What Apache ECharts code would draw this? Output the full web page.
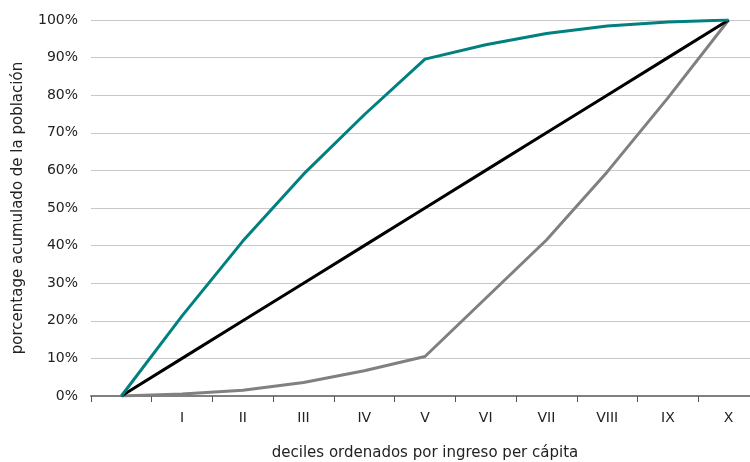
<!DOCTYPE html>
<html><head><meta charset="utf-8">
<script src="https://cdn.jsdelivr.net/npm/echarts@6/dist/echarts.min.js"></script>
<style>html,body{margin:0;padding:0;background:#fff}#c{width:750px;height:462px}</style>
</head><body><div id="c"></div>
<script>
const categories = ['', 'I', 'II', 'III', 'IV', 'V', 'VI', 'VII', 'VIII', 'IX', 'X'];
const tealValues = [0, 21.3, 41.2, 59, 74.8, 89.6, 93.4, 96.4, 98.4, 99.5, 100];
const blackValues = [0, 10, 20, 30, 40, 50, 60, 70, 80, 90, 100];
const grayValues = [0, 0.5, 1.5, 3.6, 6.7, 10.5, 26, 41.5, 59.6, 79.3, 100];
const yTicks = [0, 10, 20, 30, 40, 50, 60, 70, 80, 90, 100];

const font = 'DejaVu Sans';
const chart = echarts.init(document.getElementById('c'));
const mk = (data, color) => ({
  type: 'line', data, symbol: 'none', smooth: false,
  lineStyle: { color, width: 3 }, itemStyle: { color }
});
chart.setOption({
  animation: false,
  grid: { left: 91, top: 20, right: -9, bottom: 66, outerBoundsMode: 'none', containLabel: false },
  xAxis: {
    type: 'category', data: categories, boundaryGap: true,
    name: 'deciles ordenados por ingreso per cápita',
    nameLocation: 'middle', nameGap: 50,
    nameTextStyle: { fontFamily: font, fontSize: 15, color: '#222' },
    axisLine: { lineStyle: { color: '#808080', width: 2 } },
    axisTick: { show: true, interval: 0, length: 6, lineStyle: { color: '#555', width: 1 } },
    axisLabel: { interval: 0, fontFamily: font, fontSize: 14, color: '#222', margin: 15 },
    splitLine: { show: false }
  },
  yAxis: {
    type: 'value', min: 0, max: 100, interval: 10,
    name: 'porcentage acumulado de la población',
    nameLocation: 'middle', nameGap: 65, nameRotate: 90,
    nameTextStyle: { fontFamily: font, fontSize: 15, color: '#222' },
    axisLine: { show: false }, axisTick: { show: false },
    axisLabel: { fontFamily: font, fontSize: 14, color: '#222', margin: 13,
      formatter: v => yTicks.includes(v) ? v + '%' : '' },
    splitLine: { lineStyle: { color: '#c8c8c8', width: 1 } }
  },
  series: [mk(grayValues, '#808080'), mk(blackValues, '#000000'), mk(tealValues, '#00807f')]
});
</script></body></html>
